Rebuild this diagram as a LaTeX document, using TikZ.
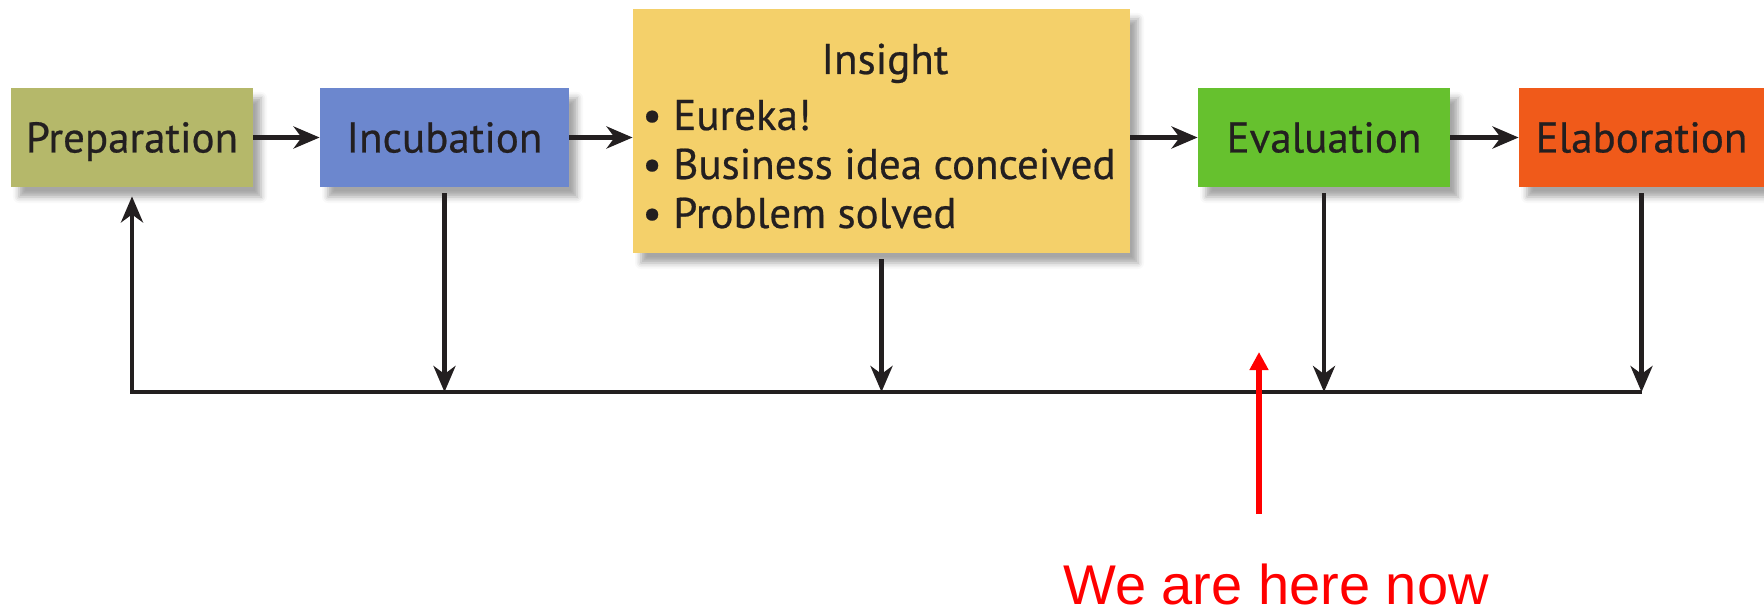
\documentclass[tikz,border=0pt]{standalone}
\usepackage{fontspec}
\setmainfont{PT Sans}
\newfontfamily\boxfont[FakeBold=0.5]{PT Sans}
\newfontfamily\arialfont{Liberation Sans}
\usetikzlibrary{arrows.meta,shadows.blur,calc}
\definecolor{prepc}{RGB}{181,184,106}
\definecolor{incc}{RGB}{108,135,206}
\definecolor{insc}{RGB}{244,208,106}
\definecolor{evalc}{RGB}{102,193,46}
\definecolor{elabc}{RGB}{240,90,26}
\definecolor{txt}{RGB}{35,31,32}
\begin{document}
\begin{tikzpicture}[x=0.5pt,y=-0.5pt,
  box/.style={rectangle, inner sep=0pt, minimum height=49.5pt, text=txt,
    font=\boxfont\fontsize{21.5}{25}\selectfont, text height=15pt, text depth=0pt,
    blur shadow={shadow xshift=4pt, shadow yshift=-5pt, shadow blur radius=3pt, shadow opacity=35}},
  arr/.style={-{Stealth[length=13pt,width=11pt,inset=4pt]}, line width=2.2pt, draw=txt},
  redarr/.style={-{Triangle[length=9pt,width=9pt]}, line width=3pt, draw=red}]
\useasboundingbox (0,0) rectangle (1764,614);
\node[box, fill=prepc, minimum width=121pt] (prep) at (132,137.5) {Preparation};
\node[box, fill=incc, minimum width=124.5pt] (incub) at (444.5,137.5) {Incubation};
\node[box, fill=insc, minimum width=248.5pt, minimum height=122pt] (insight) at (881.5,131) {};
\node[anchor=base west, inner sep=0pt, text=txt, font=\boxfont\fontsize{21.5}{24.5}\selectfont] (insighttext) at (642,74)
  {\begin{tabular}[t]{@{}l@{}}\multicolumn{1}{@{}c@{}}{\hspace*{6pt}Insight}\\[3.5pt]
  • Eureka!\\ • Business idea conceived\\ • Problem solved\end{tabular}};
\node[box, fill=evalc, minimum width=126pt] (eval) at (1324,137.5) {Evaluation};
\node[box, fill=elabc, minimum width=122.5pt] (elab) at (1641.5,137.5) {Elaboration};
\coordinate (bus) at (0,392);
% forward arrows
\draw[arr] (prep.east) -- (incub.west);
\draw[arr] (incub.east) -- (incub.east -| insight.west);
\draw[arr] (eval.west -| insight.east) -- (eval.west);
\draw[arr] (eval.east) -- (elab.west);
% feedback
\draw[arr, shorten <=3pt] (incub.south) -- (incub.south |- bus);
\draw[arr, shorten <=3pt] (insight.south) -- (insight.south |- bus);
\draw[arr, shorten <=3pt] (eval.south) -- (eval.south |- bus);
\draw[arr, shorten <=3pt] (elab.south) -- (elab.south |- bus);
\draw[arr, shorten >=4.5pt] (elab.south |- bus) -- (prep.south |- bus) -- (prep.south);
% red marker
\coordinate (redtail) at (1259,514);
\coordinate (redtip) at (1259,352);
\draw[redarr] (redtail) -- (redtip);
\node[anchor=base, inner sep=0pt, text=red, font=\arialfont\fontsize{28}{32}\selectfont] (here) at (1276,604) {We are here now};
\end{tikzpicture}
\end{document}
